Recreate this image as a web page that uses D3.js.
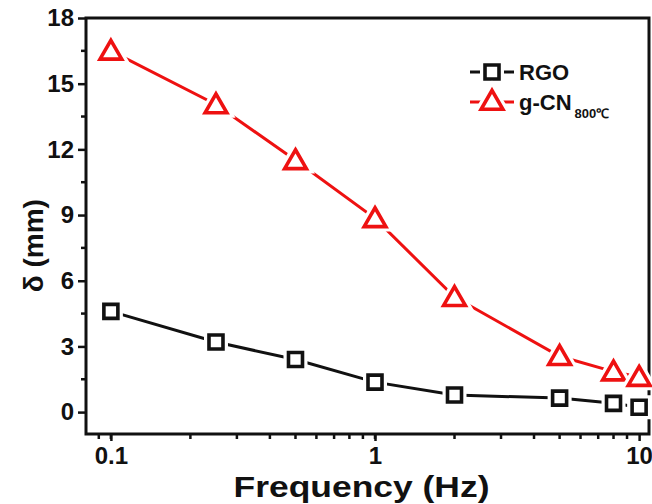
<!DOCTYPE html>
<html>
<head>
<meta charset="utf-8">
<script src="https://cdn.jsdelivr.net/npm/d3@7"></script>
<style>
  body { margin: 0; background: #fff; }
  svg { font-family: 'Liberation Sans', Arial, sans-serif; font-weight: bold; }
</style>
</head>
<body>
<div id="chart-area"></div>
<script>
const frequency = [0.1, 0.25, 0.5, 1, 2, 5, 8, 10];
const rgo = [4.6, 3.2, 2.4, 1.37, 0.78, 0.64, 0.4, 0.22];
const gcn = [16.5, 14.05, 11.5, 8.85, 5.25, 2.55, 1.85, 1.6];
const yTicks = [0, 3, 6, 9, 12, 15, 18];
const xTicks = [0.1, 1, 10];

const width = 652;
const height = 504;
const margin = { left: 86, right: 3, top: 18, bottom: 70 };
const innerW = width - margin.left - margin.right;
const innerH = height - margin.top - margin.bottom;

const svg = d3.select('#chart-area').append('svg')
  .attr('width', width)
  .attr('height', height);

const g = svg.append('g')
  .attr('transform', `translate(${margin.left}, ${margin.top})`);

const x = d3.scaleLog()
  .domain([0.0805, 10.9])
  .range([0, innerW]);

const y = d3.scaleLinear()
  .domain([-1, 18])
  .range([innerH, 0]);

// minor ticks
const xMinor = [];
[0.1, 1].forEach(dec => { for (let k = 1; k <= 9; k++) xMinor.push(dec * k); });
xMinor.push(0.09);
const yMinor = yTicks.slice(0, -1).map(d => d + 1.5);

const axisX = d3.axisBottom(x)
  .tickValues(xTicks)
  .tickFormat(d => d)
  .tickSize(7)
  .tickPadding(6);

const axisY = d3.axisLeft(y)
  .tickValues(yTicks)
  .tickSize(8)
  .tickPadding(4);

const gx = g.append('g')
  .attr('transform', `translate(0, ${innerH})`)
  .call(axisX);

gx.selectAll('.minor')
  .data(xMinor.filter(d => x(d) >= 0 && x(d) <= innerW))
  .enter().append('line')
    .attr('x1', d => x(d))
    .attr('x2', d => x(d))
    .attr('y1', 0)
    .attr('y2', 5)
    .attr('stroke', '#111')
    .attr('stroke-width', 2.5);

const gy = g.append('g').call(axisY);

gy.selectAll('.minor')
  .data(yMinor)
  .enter().append('line')
    .attr('x1', -5)
    .attr('x2', 0)
    .attr('y1', d => y(d))
    .attr('y2', d => y(d))
    .attr('stroke', '#111')
    .attr('stroke-width', 2.5);

[gx, gy].forEach(a => {
  a.attr('font-size', 24)
    .attr('font-family', "'Liberation Sans', Arial, sans-serif");
  a.select('.domain').remove();
  a.selectAll('.tick line')
    .attr('stroke', '#111')
    .attr('stroke-width', 2.5);
  a.selectAll('text')
    .style('font-size', '24px')
    .style('font-weight', 'bold')
    .attr('fill', '#111');
});

// frame
g.append('rect')
  .attr('x', 0)
  .attr('y', 0)
  .attr('width', innerW)
  .attr('height', innerH)
  .attr('fill', 'none')
  .attr('stroke', '#111')
  .attr('stroke-width', 3);

// labels
g.append('text')
  .text('Frequency (Hz)')
    .attr('x', innerW / 2 - 6)
    .attr('y', innerH + 63)
    .attr('font-size', '30px')
    .attr('textLength', 256)
    .attr('lengthAdjust', 'spacingAndGlyphs')
    .attr('text-anchor', 'middle')
    .attr('fill', '#111');

g.append('text')
  .text('δ (mm)')
    .attr('x', -(y(7.6)))
    .attr('y', -43)
    .attr('transform', 'rotate(-90)')
    .attr('font-size', '28px')
    .attr('text-anchor', 'middle')
    .attr('fill', '#111');

// series
const series = [
  { name: 'RGO', values: rgo, color: '#111', shape: 'square' },
  { name: 'gcn', values: gcn, color: '#ee1111', shape: 'triangle' }
];

const line = d3.line()
  .x(d => x(d[0]))
  .y(d => y(d[1]));

const symbolPath = shape => shape === 'square'
  ? d3.symbol(d3.symbolSquare, 196)()
  : d3.symbol(d3.symbolTriangle, 205)();

function drawMarker(sel, s) {
  sel.append('path')
    .attr('d', symbolPath(s.shape))
    .attr('fill', '#fff')
    .attr('stroke', '#fff')
    .attr('stroke-width', 10);
  sel.append('path')
    .attr('d', symbolPath(s.shape))
    .attr('fill', '#fff')
    .attr('stroke', s.color)
    .attr('stroke-width', 3.6)
    .attr('stroke-linejoin', 'miter');
}

series.forEach(s => {
  const pts = frequency.map((f, i) => [f, s.values[i]]);
  g.append('path')
    .datum(pts)
    .attr('d', line)
    .attr('fill', 'none')
    .attr('stroke', s.color)
    .attr('stroke-width', 3);

  g.selectAll(null)
    .data(pts)
    .enter().append('g')
      .attr('transform', d => `translate(${x(d[0])}, ${y(d[1]) + (s.shape === 'triangle' ? 2 : 0)})`)
      .each(function() { drawMarker(d3.select(this), s); });
});

// legend
const legend = g.append('g')
  .attr('transform', 'translate(384, 54)');

series.forEach((s, i) => {
  const row = legend.append('g')
    .attr('transform', `translate(0, ${i * 30})`);
  row.append('line')
    .attr('x1', 0)
    .attr('x2', 44)
    .attr('stroke', s.color)
    .attr('stroke-width', 3);
  const m = row.append('g')
    .attr('transform', `translate(22, ${s.shape === 'triangle' ? 1 : 0})`);
  drawMarker(m, s);
  const t = row.append('text')
    .attr('x', 49)
    .attr('y', 8)
    .attr('font-size', '22px')
    .attr('fill', '#111');
  if (s.name === 'RGO') {
    t.text('RGO');
  } else {
    t.append('tspan').text('g-CN');
    t.append('tspan')
      .text('800℃')
      .attr('font-size', '13px')
      .attr('dy', 8)
      .attr('dx', 3);
  }
});
</script>
</body>
</html>
